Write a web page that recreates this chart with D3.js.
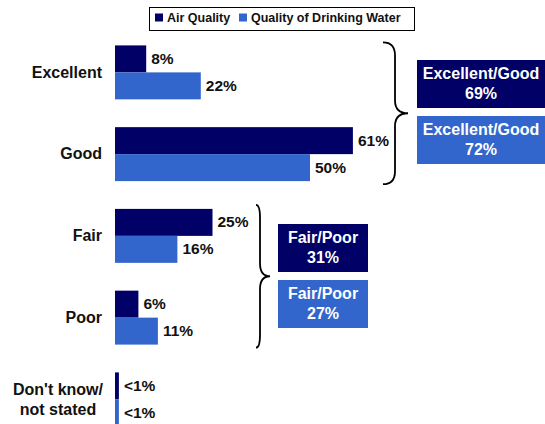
<!DOCTYPE html>
<html><head><meta charset="utf-8">
<script src="https://cdn.jsdelivr.net/npm/d3@7"></script>
<style>body{margin:0;background:#fff;}svg{display:block;font-family:Arial,"Liberation Sans",sans-serif;font-weight:bold;}</style>
</head><body>
<script>
const categories = ["Excellent","Good","Fair","Poor","Don't know/\nnot stated"];
const seriesNames = ["Air Quality","Quality of Drinking Water"];
const airValues = [8,61,25,6,1];
const waterValues = [22,50,16,11,1];
const airLabels = ["8%","61%","25%","6%","<1%"];
const waterLabels = ["22%","50%","16%","11%","<1%"];
const groupNames = ["Excellent/Good","Fair/Poor"];
const groupAir = ["69%","31%"];
const groupWater = ["72%","27%"];
const colors = ["#000066","#3366CC"];

const W=545,H=424;
const svg=d3.select("body").append("svg").attr("width",W).attr("height",H);

const x=d3.scaleLinear().domain([0,100]).range([115,505]);
const y=d3.scaleBand().domain(categories).range([31.5,31.5+5*81.75]).paddingInner(0.34).paddingOuter(0.17);
const inner=d3.scaleBand().domain(seriesNames).range([0,y.bandwidth()]);

const data=categories.map((c,i)=>({c,vals:[
  {s:seriesNames[0],v:airValues[i],l:airLabels[i]},
  {s:seriesNames[1],v:waterValues[i],l:waterLabels[i]}]}));

const g=svg.selectAll("g.cat").data(data).join("g").attr("transform",d=>`translate(0,${y(d.c)})`);
g.selectAll("rect").data(d=>d.vals).join("rect")
  .attr("x",x(0)).attr("y",d=>inner(d.s)).attr("height",inner.bandwidth())
  .attr("width",d=>x(d.v)-x(0)).attr("fill",(d,i)=>colors[i]);
g.selectAll("text.val").data(d=>d.vals).join("text").attr("class","val")
  .attr("x",d=>x(d.v)+5).attr("y",d=>inner(d.s)+inner.bandwidth()/2+1)
  .attr("dominant-baseline","middle").attr("font-size","15.5px").attr("fill","#111").text(d=>d.l);

// category labels
g.each(function(d){
  const sel=d3.select(this);
  const lines=d.c.split("\n");
  const cy=y.bandwidth()/2;
  if(lines.length===1){
    sel.append("text").attr("x",102).attr("y",cy+1).attr("text-anchor","end")
      .attr("dominant-baseline","middle").attr("font-size","16px").attr("fill","#111").text(lines[0]);
  } else {
    lines.forEach((t,k)=>sel.append("text").attr("x",58).attr("y",cy-9+k*20).attr("text-anchor","middle")
      .attr("dominant-baseline","middle").attr("font-size","16px").attr("fill","#111").text(t));
  }
});

// legend
svg.append("rect").attr("x",149.5).attr("y",7.5).attr("width",265).attr("height",23).attr("fill","#fff").attr("stroke","#000").attr("stroke-width",1);
const legX=[155,239];
seriesNames.forEach((s,i)=>{
  svg.append("rect").attr("x",legX[i]).attr("y",13.5).attr("width",8).attr("height",8).attr("fill",colors[i]);
  svg.append("text").attr("x",legX[i]+12).attr("y",19).attr("dominant-baseline","middle")
    .attr("font-size","12.5px").attr("fill","#111").text(s);
});

// braces
function brace(x0,x1,x2,y0,y1,r){
  const ym=(y0+y1)/2;
  return `M${x0},${y0} Q${x1},${y0} ${x1},${y0+r} L${x1},${ym-r} Q${x1},${ym} ${x2},${ym} Q${x1},${ym} ${x1},${ym+r} L${x1},${y1-r} Q${x1},${y1} ${x0},${y1}`;
}
const braceSpecs=[
  {x0:383,x1:395,x2:408,y0:y(categories[0])+y.bandwidth()/2-30,y1:y(categories[1])+y.bandwidth()/2+30},
  {x0:256,x1:260,x2:270,y0:y(categories[2])+y.bandwidth()/2-31,y1:y(categories[3])+y.bandwidth()/2+30}
];
braceSpecs.forEach(b=>svg.append("path").attr("d",brace(b.x0,b.x1,b.x2,b.y0,b.y1,13))
  .attr("fill","none").attr("stroke","#000").attr("stroke-width",1.8));

// group boxes
const boxSpecs=[{x:417,w:128,y:60},{x:278,w:90,y:224}];
boxSpecs.forEach((b,i)=>{
  [groupAir[i],groupWater[i]].forEach((v,k)=>{
    const by=b.y+k*56;
    svg.append("rect").attr("x",b.x).attr("y",by).attr("width",b.w).attr("height",48).attr("fill",colors[k]);
    svg.append("text").attr("x",b.x+b.w/2).attr("y",by+15).attr("text-anchor","middle").attr("dominant-baseline","middle")
      .attr("font-size","16px").attr("fill","#fff").text(groupNames[i]);
    svg.append("text").attr("x",b.x+b.w/2).attr("y",by+35).attr("text-anchor","middle").attr("dominant-baseline","middle")
      .attr("font-size","16px").attr("fill","#fff").text(v);
  });
});
</script>
</body></html>
